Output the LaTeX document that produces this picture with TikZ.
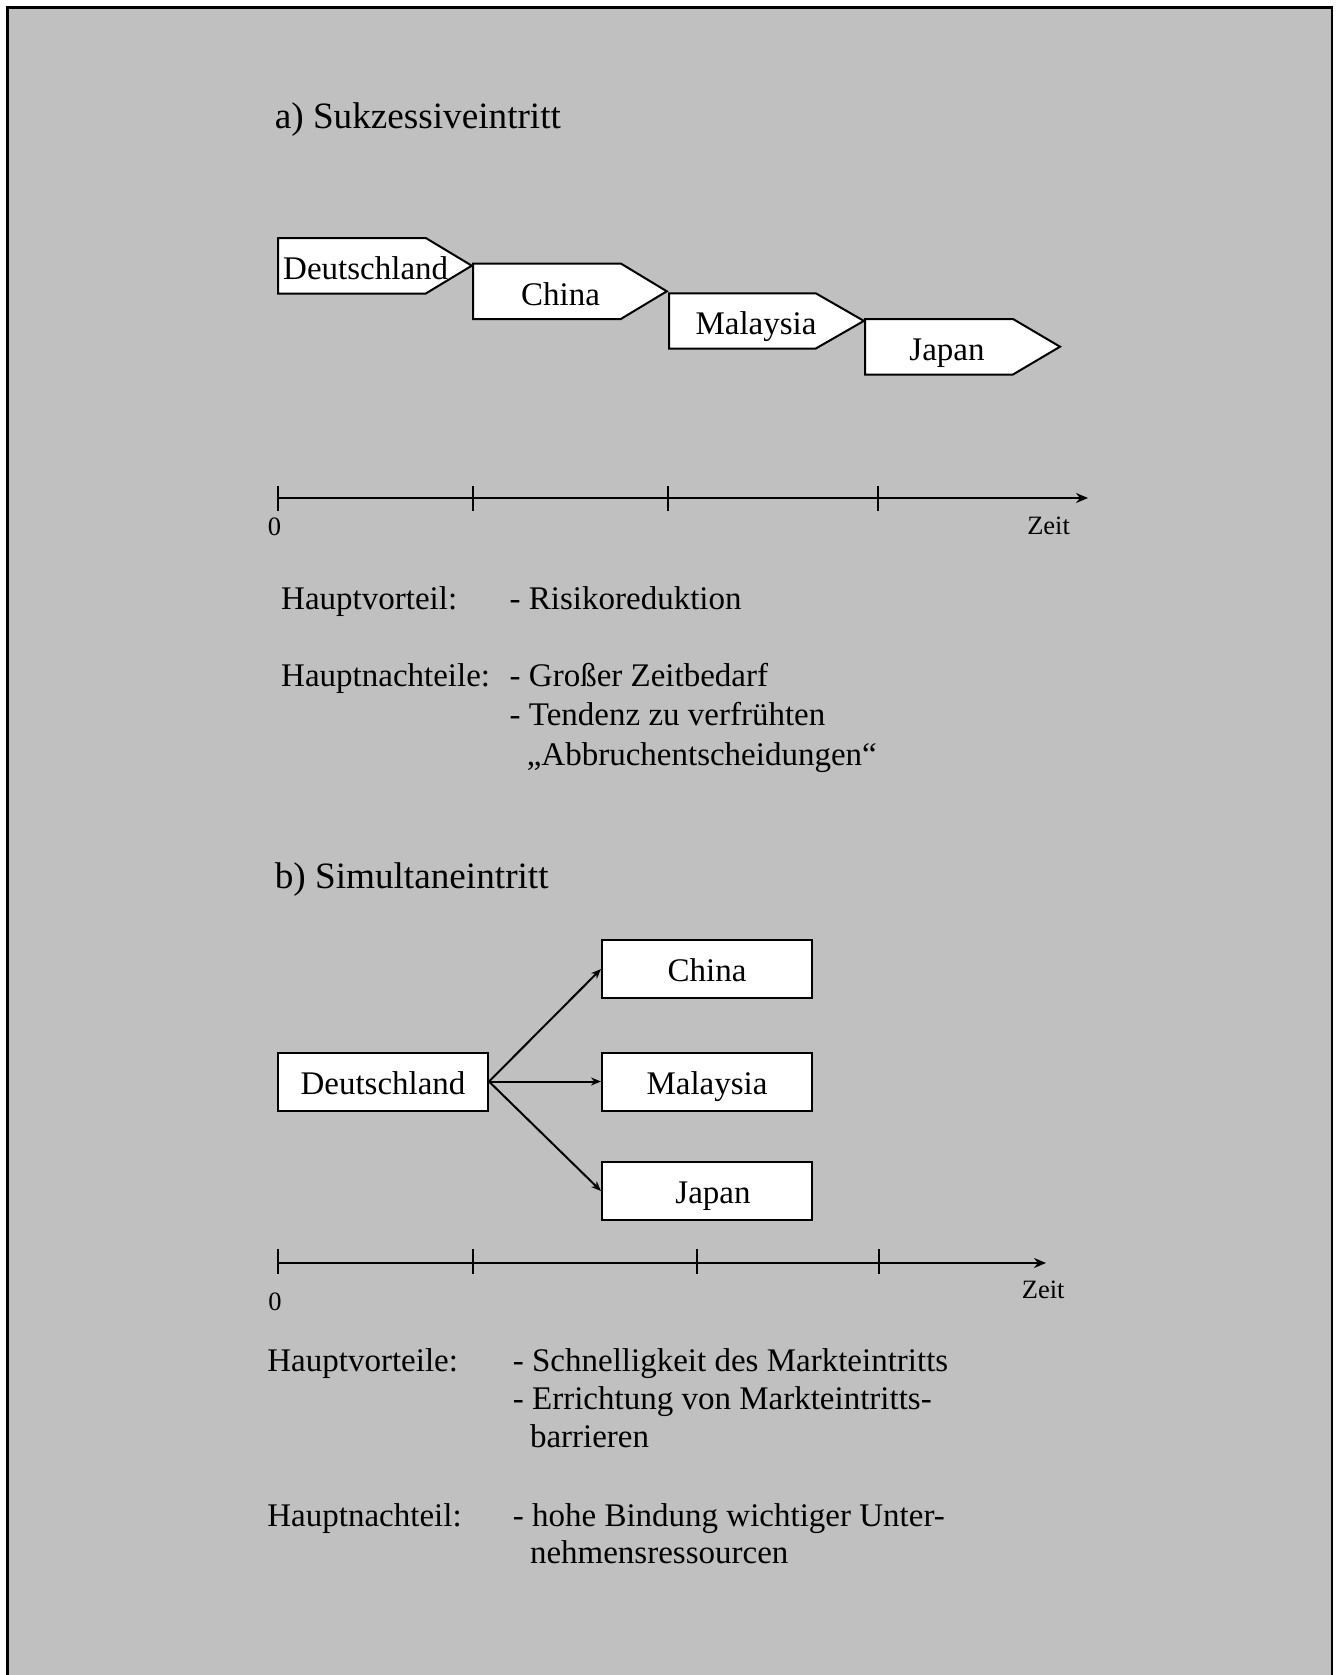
\documentclass[tikz,border=0pt]{standalone}
\usepackage{fontspec}
\setmainfont{Liberation Serif}
\usetikzlibrary{arrows.meta}
\definecolor{bggray}{RGB}{192,192,192}
\tikzset{
  pent/.style={draw=black, fill=white, line width=1pt, line join=miter},
  boxb/.style={draw=black, fill=white, line width=1pt, minimum width=105pt, minimum height=29pt, inner sep=0pt, text height=13pt, text depth=0.2pt, font=\fontsize{16.5}{18}\selectfont},
  ptext/.style={inner sep=0pt, anchor=base, font=\fontsize{16.5}{18}\selectfont},
  body/.style={anchor=west, inner sep=0pt, text height=0.69em, text depth=0.22em, font=\fontsize{16.5}{19}\selectfont},
  ttl/.style={anchor=west, inner sep=0pt, text height=0.69em, text depth=0.22em, font=\fontsize{18.6}{21}\selectfont},
  small/.style={inner sep=0pt, text height=0.69em, text depth=0.2em, font=\fontsize{13.25}{15}\selectfont},
  axis/.style={line width=1pt, -{Stealth[length=6pt, width=5pt]}},
  tick/.style={line width=1pt},
  arr/.style={line width=1pt, -{Stealth[length=5pt, width=4pt]}},
  frame/.style={line width=1.35pt}
}
\begin{document}
\begin{tikzpicture}[x=0.5pt, y=-0.5pt]
\useasboundingbox (0,0) rectangle (1338,1675);
\fill[white] (0,0) rectangle (1338,1675);
\fill[bggray] (7.5,7.5) rectangle (1332,1680);
\draw[frame] (7.5,1680) -- (7.5,7.5) -- (1332,7.5) -- (1332,1680);

% titles
\node[ttl] (ta) at (274.4,124) {a) Sukzessiveintritt};
\node[ttl] (tb) at (274.4,884) {b) Simultaneintritt};

% part a pentagons
\draw[pent] (278,238) -- (425.8,238) -- (471.8,265.7) -- (425.8,293.5) -- (278,293.5) -- cycle;
\draw[pent] (473,263.5) -- (620.8,263.5) -- (666.8,291.3) -- (620.8,319) -- (473,319) -- cycle;
\draw[pent] (669,293.3) -- (815.8,293.3) -- (863.9,320.9) -- (815.8,348.5) -- (669,348.5) -- cycle;
\draw[pent] (865,319) -- (1013,319) -- (1060,346.7) -- (1013,374.5) -- (865,374.5) -- cycle;
\node[ptext] (pD) at (365.7,279.5) {Deutschland};
\node[ptext] (pC) at (560.6,305) {China};
\node[ptext] (pM) at (756,334.5) {Malaysia};
\node[ptext] (pJ) at (947,360.5) {Japan};

% timeline a
\coordinate (a0) at (278,498);
\coordinate (aend) at (1088,498);
\draw[axis] (a0) -- (aend);
\foreach \x in {278,473,668,878} \draw[tick] (\x,486) -- (\x,511);
\node[small] (za0) at (274.6,531) {0};
\node[small] (zaz) at (1048.6,530) {Zeit};

% part a text
\node[body] (hv) at (280.8,604.5) {Hauptvorteil:};
\node[body] (hv1) at (509.3,604.5) {- Risikoreduktion};
\node[body] (hn) at (280.8,681.3) {Hauptnachteile:};
\node[body] (hn1) at (509.3,681.3) {- Großer Zeitbedarf};
\node[body] (hn2) at (509.3,720.8) {- Tendenz zu verfrühten};
\node[body] (hn3) at (526.4,760.3) {„Abbruchentscheidungen“};

% part b boxes
\node[boxb] (bD) at (383,1081.5) {Deutschland};
\node[boxb] (bC) at (707,969) {China};
\node[boxb] (bM) at (707,1081.5) {Malaysia};
\node[boxb] (bJ) at (707,1191) {\hspace*{6pt}Japan};
\draw[arr] (bD.east) -- (bC.west);
\draw[arr] (bD.east) -- (bM.west);
\draw[arr] (bD.east) -- (bJ.west);

% timeline b
\coordinate (b0) at (278,1263);
\coordinate (bend) at (1046,1263);
\draw[axis] (b0) -- (bend);
\foreach \x in {278,473,697,879} \draw[tick] (\x,1249) -- (\x,1274);
\node[small] (zb0) at (275,1306) {0};
\node[small] (zbz) at (1043.2,1294) {Zeit};

% part b text
\node[body] (bv) at (267,1366.8) {Hauptvorteile:};
\node[body] (bv1) at (512.5,1366.8) {- Schnelligkeit des Markteintritts};
\node[body] (bv2) at (512.5,1405.2) {- Errichtung von Markteintritts-};
\node[body] (bv3) at (529.6,1442.5) {barrieren};
\node[body] (bn) at (267,1521.5) {Hauptnachteil:};
\node[body] (bn1) at (512.5,1521.5) {- hohe Bindung wichtiger Unter-};
\node[body] (bn2) at (529.6,1559) {nehmensressourcen};
\end{tikzpicture}
\end{document}
